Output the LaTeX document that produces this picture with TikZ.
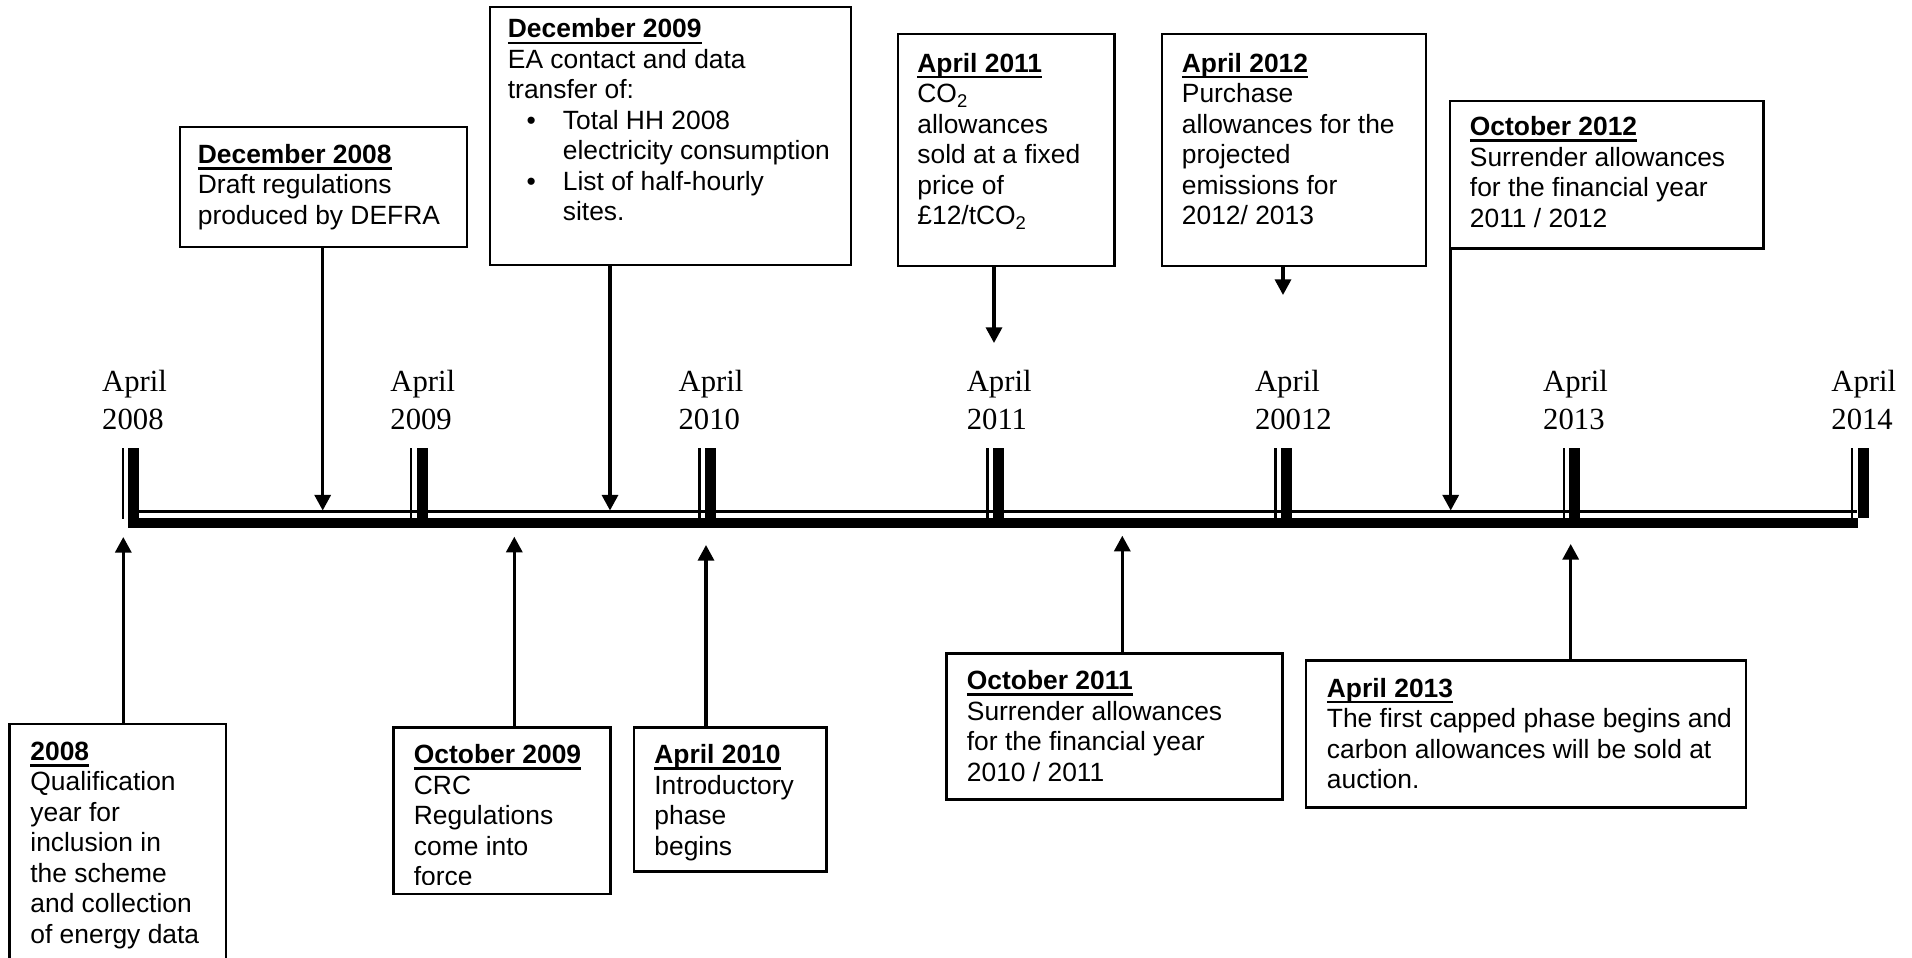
\documentclass[tikz,border=0pt]{standalone}
\usepackage{fontspec}
\setmainfont{Liberation Sans}
\newfontfamily\arialf{Liberation Sans}
\newfontfamily\timesf{Liberation Serif}
\usetikzlibrary{arrows.meta,fit}
\newsavebox\ulbox
\newcommand\ulb[1]{\sbox\ulbox{\textbf{#1}}\rlap{\rule[-3.2pt]{\wd\ulbox}{1.3pt}}\usebox\ulbox}
\newcommand\bul{\makebox[27.5pt][l]{\hspace{9.4pt}\textbullet}}
\begin{document}
\begin{tikzpicture}[x=0.5pt,y=-0.5pt,
  boxst/.style={draw, line width=1.35pt, inner sep=0pt},
  txt/.style={font=\arialf\fontsize{13.2}{15.25}\selectfont, align=left, inner sep=0pt, anchor=north west},
  yr/.style={font=\timesf\fontsize{15.35}{18.8}\selectfont, align=left, inner sep=0pt, anchor=north west},
  arr/.style={line width=1.6pt, -{Triangle[length=7.8pt,width=8pt]}},
  thickln/.style={line width=5.3pt},
  thinln/.style={line width=1.2pt},
  tickthick/.style={line width=5.5pt},
  tickthin/.style={line width=1.3pt}]
\useasboundingbox (0,0) rectangle (1912,958);

% timeline
\draw[thickln] (130,523) -- (1858,523);
\draw[thinln] (139,511.5) -- (1857,511.5);
\foreach \i in {0,...,5}{
  \draw[tickthick] ({133.8+288.2*\i},448) -- ({133.8+288.2*\i},528);
  \draw[tickthin] ({122.8+288.2*\i},448) -- ({122.8+288.2*\i},519);
}
\draw[tickthick] (1863,448) -- (1863,518);
\draw[tickthin] (1852,448) -- (1852,519);

% year labels
\foreach \i/\t in {0/2008,1/2009,2/2010,3/2011,4/20012,5/2013,6/2014}
  \node[yr] (yr\i) at ({101.8+288.2*\i},370) {April\\\t};

% top boxes
\node[boxst, fit={(180,127) (467,247)}] (bA) {};
\node[txt] (tA) at (197.5,143.8) {\ulb{December 2008}\\Draft regulations\\produced by DEFRA};
\coordinate (pA) at (322.7,510.5);
\draw[arr] (bA.south -| pA) -- (pA);

\node[boxst, fit={(490,7) (851,265)}] (bB) {};
\node[txt] (tB) at (507.5,18.4) {\ulb{December 2009}\\EA contact and data\\transfer of:\\\bul Total HH 2008\\\hspace*{27.5pt}electricity consumption\\\bul List of half-hourly\\\hspace*{27.5pt}sites.};
\coordinate (pB) at (610,510.5);
\draw[arr] (bB.south -| pB) -- (pB);

\node[boxst, fit={(898,34) (1114.6,266)}] (bC) {};
\node[txt] (tC) at (917,52.5) {\ulb{April 2011}\\CO\textsubscript{2}\\allowances\\sold at a fixed\\price of\\£12/tCO\textsubscript{2}};
\coordinate (pC) at (994,343);
\draw[arr] (bC.south -| pC) -- (pC);

\node[boxst, fit={(1162,34) (1426,266)}] (bD) {};
\node[txt] (tD) at (1181.5,52.5) {\ulb{April 2012}\\Purchase\\allowances for the\\projected\\emissions for\\2012/ 2013};
\coordinate (pD) at (1283,295);
\draw[arr] (bD.south -| pD) -- (pD);

\node[boxst, fit={(1450,101) (1763.3,248.3)}] (bE) {};
\node[txt] (tE) at (1469.5,116) {\ulb{October 2012}\\Surrender allowances\\for the financial year\\2011 / 2012};
\coordinate (pE) at (1450.7,510.5);
\draw[arr] (bE.south -| pE) -- (pE);

% bottom boxes
\node[boxst, fit={(9.3,724) (226,990)}] (bF) {};
\node[txt] (tF) at (30,741.5) {\ulb{2008}\\Qualification\\year for\\inclusion in\\the scheme\\and collection\\of energy data};
\coordinate (pF) at (123.3,537);
\draw[arr] (bF.north -| pF) -- (pF);

\node[boxst, fit={(393.3,727.3) (610.7,894)}] (bG) {};
\begin{scope}
\clip (393,727) rectangle (611,884);
\node[txt] (tG) at (413.5,744) {\ulb{October 2009}\\CRC\\Regulations\\come into\\force};
\end{scope}
\coordinate (pG) at (514.3,536.7);
\draw[arr] (bG.north -| pG) -- (pG);

\node[boxst, fit={(634,727.3) (826.7,871.7)}] (bH) {};
\node[txt] (tH) at (654,744) {\ulb{April 2010}\\Introductory\\phase\\begins};
\coordinate (pH) at (706,545);
\draw[arr] (bH.north -| pH) -- (pH);

\node[boxst, fit={(946.7,653.3) (1282.7,799.3)}] (bI) {};
\node[txt] (tI) at (966.5,670) {\ulb{October 2011}\\Surrender allowances\\for the financial year\\2010 / 2011};
\coordinate (pI) at (1122.3,535.7);
\draw[arr] (bI.north -| pI) -- (pI);

\node[boxst, fit={(1306,660.7) (1746,807.3)}] (bJ) {};
\node[txt] (tJ) at (1326.5,677.5) {\ulb{April 2013}\\The first capped phase begins and\\carbon allowances will be sold at\\auction.};
\coordinate (pJ) at (1570.7,544);
\draw[arr] (bJ.north -| pJ) -- (pJ);
\end{tikzpicture}
\end{document}
